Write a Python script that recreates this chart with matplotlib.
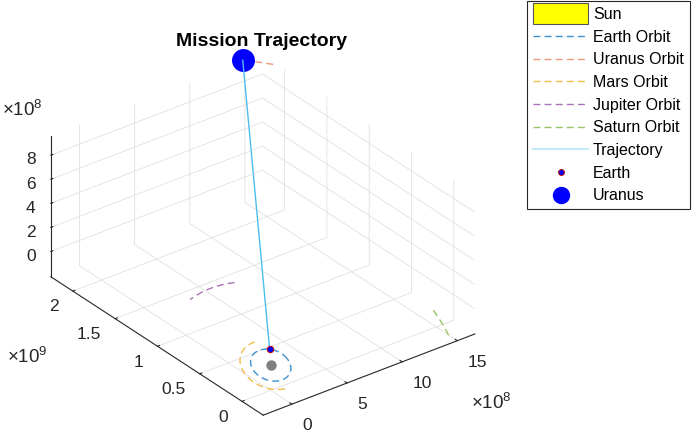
import numpy as np
import matplotlib
matplotlib.use('Agg')
import matplotlib.pyplot as plt
from matplotlib.lines import Line2D
from matplotlib.patches import Patch, Rectangle
from matplotlib.legend_handler import HandlerPatch
from mpl_toolkits.mplot3d import proj3d

plt.rcParams['font.family'] = ['Liberation Sans', 'DejaVu Sans']
plt.rcParams['mathtext.fontset'] = 'custom'
plt.rcParams['mathtext.rm'] = 'Liberation Sans'
plt.rcParams['mathtext.it'] = 'Liberation Sans:italic'
plt.rcParams['mathtext.bf'] = 'Liberation Sans:bold'

# ---------------- data ----------------
orbit_names = ['Earth Orbit', 'Uranus Orbit', 'Mars Orbit', 'Jupiter Orbit', 'Saturn Orbit']
orbit_radius_km = [1.496e8, 2.871e9, 2.279e8, 7.785e8, 1.434e9]
arc_start_deg = [0, 54.5, 86, 75, -12]
arc_end_deg = [360, 59, 262, 105, -1]
orbit_colors = ['#3C91D0', '#EE9A78', '#F2BE4A', '#A873B8', '#98C463']
obliquity_deg = 23.44
earth_angle_deg = 58
uranus_angle_deg = 59
sun_position = [0.0, 0.0, 0.0]

x_limits = [-2.6e8, 1.66e9]
y_limits = [-2.5e8, 2.26e9]
z_limits = [-2.1e8, 9.6e8]
x_ticks = [0, 5e8, 1e9, 1.5e9]
x_tick_labels = ['0', '5', '10', '15']
y_ticks = [0, 5e8, 1e9, 1.5e9, 2e9]
y_tick_labels = ['0', '0.5', '1', '1.5', '2']
z_ticks = [0, 2e8, 4e8, 6e8, 8e8]
z_tick_labels = ['0', '2', '4', '6', '8']

# ---------------- helpers ----------------
eps = np.radians(obliquity_deg)


def ecl_to_xyz(r, theta_deg):
    t = np.radians(theta_deg)
    return r * np.cos(t), r * np.sin(t) * np.cos(eps), r * np.sin(t) * np.sin(eps)


W, H = 692, 434
fig = plt.figure(figsize=(W / 100, H / 100), dpi=100)
ax = fig.add_axes([0.1, 0.1, 0.6, 0.6 * W / H], projection='3d', computed_zorder=False)
ax.set_proj_type('ortho')
ax.view_init(elev=30, azim=-127.5)
ax.set_xlim(*x_limits)
ax.set_ylim(*y_limits)
ax.set_zlim(*z_limits)
ax.set_box_aspect((x_limits[1] - x_limits[0], y_limits[1] - y_limits[0], z_limits[1] - z_limits[0]))

ax.set_xticks(x_ticks)
ax.set_xticklabels(x_tick_labels, ha='left')
ax.set_yticks(y_ticks)
ax.set_yticklabels(y_tick_labels, ha='right', va='center_baseline')
ax.set_zticks(z_ticks)
ax.set_zticklabels(z_tick_labels)

tick_col = '#262626'
for axis in (ax.xaxis, ax.yaxis, ax.zaxis):
    axis.set_pane_color((1, 1, 1, 0))
    axis.pane.set_edgecolor((1, 1, 1, 0))
    axis.line.set_color(tick_col)
    axis.line.set_linewidth(0.8)
    axis._axinfo['grid'].update(color='#e0e0e0', linewidth=0.6)
    axis._axinfo['tick'].update(inward_factor=0.0, outward_factor=0.12)
    axis.set_tick_params(colors=tick_col, labelsize=12.5, width=0.8)
ax.xaxis.set_tick_params(pad=0.5)
ax.yaxis.set_tick_params(pad=3)
ax.zaxis.set_tick_params(pad=0)

dash = (0, (5, 3))
for name, r, a0, a1, c in zip(orbit_names, orbit_radius_km, arc_start_deg, arc_end_deg, orbit_colors):
    th = np.linspace(a0, a1, 400)
    x, y, z = ecl_to_xyz(r, th)
    ax.plot(x, y, z, linestyle=dash, color=c, lw=1)

ex, ey, ez = ecl_to_xyz(orbit_radius_km[0], earth_angle_deg)
ux, uy, uz = ecl_to_xyz(orbit_radius_km[1], uranus_angle_deg)

ax.plot([sun_position[0]], [sun_position[1]], [sun_position[2]], 'o', color='#808080', ms=7.5, mec='none')
ax.plot([ux], [uy], [uz], 'o', color='#0000FF', ms=15.5, mec='#0000FF')
ax.plot([ex, ux], [ey, uy], [ez, uz], color='#4DBEEE', lw=1)
ax.plot([ex], [ey], [ez], 'o', mfc='#0000FF', mec='#C00000', ms=4.6, mew=0.7)

# --------- calibrate placement of the 3D box ---------
corner_A = (x_limits[0], y_limits[0], z_limits[0])
corner_C = (x_limits[1], y_limits[0], z_limits[0])
corner_D = (x_limits[0], y_limits[1], z_limits[1])
tA, tC, tD = (263, 415), (476, 333), (50, 137)


def img_px(pt):
    M = ax.get_proj()
    xs, ys, _ = proj3d.proj_transform(np.array([pt[0]]), np.array([pt[1]]), np.array([pt[2]]), M)
    d = ax.transData.transform(np.column_stack([xs, ys]))[0]
    return d[0], H - d[1]


L = 400.0
cx, cy = 300.0, 230.0  # display px centre (from bottom)
for it in range(3):
    ax.set_position([(cx - L / 2) / W, (cy - L / 2) / H, L / W, L / H])
    fig.canvas.draw()
    A, C, D = img_px(corner_A), img_px(corner_C), img_px(corner_D)
    s = 0.5 * ((tC[0] - tD[0]) / (C[0] - D[0]) + (tA[1] - tD[1]) / (A[1] - D[1]))
    L *= s
    ax.set_position([(cx - L / 2) / W, (cy - L / 2) / H, L / W, L / H])
    fig.canvas.draw()
    A, C, D = img_px(corner_A), img_px(corner_C), img_px(corner_D)
    mx = np.mean([tA[0] - A[0], tC[0] - C[0], tD[0] - D[0]])
    my = np.mean([tA[1] - A[1], tC[1] - C[1], tD[1] - D[1]])
    cx += mx
    cy -= my
ax.set_position([(cx - L / 2) / W, (cy - L / 2) / H, L / W, L / H])

# --------- exponent labels & title ---------
exp_fs = 13.5
fig.text(471 / W, 1 - 403 / H, r'$\times10^{8}$', fontsize=exp_fs, color=tick_col, ha='left', va='center')
fig.text(7 / W, 1 - 357 / H, r'$\times10^{9}$', fontsize=exp_fs, color=tick_col, ha='left', va='center')
fig.text(2 / W, 1 - 110 / H, r'$\times10^{8}$', fontsize=exp_fs, color=tick_col, ha='left', va='center')
fig.text(262 / W, 1 - 42 / H, 'Mission Trajectory', fontsize=14, fontweight='bold',
         ha='center', va='center', color='black')


# --------- legend ---------
class TallPatch(HandlerPatch):
    def create_artists(self, legend, orig_handle, xdescent, ydescent, width, height, fontsize, trans):
        h = height * 1.8
        p = Rectangle((-xdescent, -ydescent - (h - height) / 2), width, h,
                      facecolor=orig_handle.get_facecolor(), edgecolor=orig_handle.get_edgecolor(),
                      lw=orig_handle.get_linewidth(), transform=trans)
        return [p]


sun_h = Patch(facecolor='#FFFF00', edgecolor='#555555', lw=0.8)
handles = [sun_h]
for c in orbit_colors:
    handles.append(Line2D([], [], color=c, ls=dash, lw=1))
handles.append(Line2D([], [], color='#C4EAFA', lw=1.5))
handles.append(Line2D([], [], ls='none', marker='o', mfc='#0000FF', mec='#C00000', ms=4.2, mew=0.7))
handles.append(Line2D([], [], ls='none', marker='o', color='#0000FF', ms=11.5))
labels = ['Sun'] + orbit_names + ['Trajectory', 'Earth', 'Uranus']
leg = fig.legend(handles, labels, loc='upper left', bbox_to_anchor=(527 / W, 1 - 1 / H),
                 bbox_transform=fig.transFigure, borderaxespad=0, fontsize=11.5,
                 handlelength=3.45, handletextpad=0.3, labelspacing=0.48, borderpad=0.38,
                 fancybox=False, framealpha=1, edgecolor='#262626',
                 handler_map={Patch: TallPatch()})
leg.get_frame().set_linewidth(0.8)

fig.savefig('out.png', dpi=100)
